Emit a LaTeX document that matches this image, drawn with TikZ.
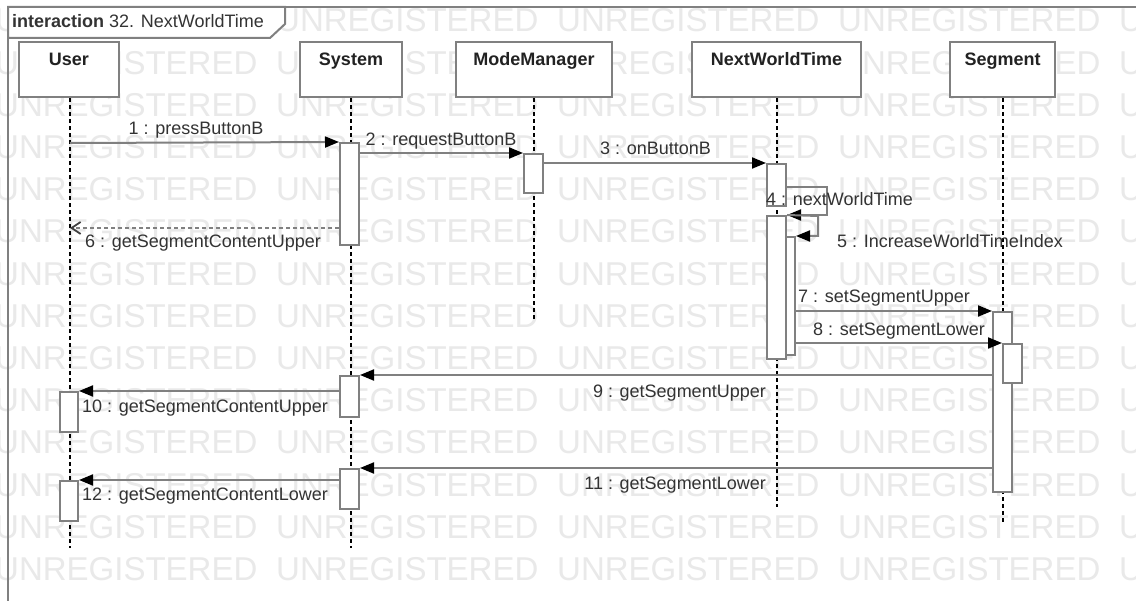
\documentclass[tikz,border=0pt]{standalone}
\usepackage{fontspec}
\setmainfont{Liberation Sans}
\usetikzlibrary{arrows.meta}
\definecolor{ln}{HTML}{808080}
\definecolor{wm}{HTML}{E9E9E9}
\definecolor{tx}{HTML}{333333}
\definecolor{hd}{HTML}{222222}
\begin{document}
\begin{tikzpicture}[x=1pt,y=-1pt,
  lbl/.style={font=\fontsize{18}{20}\selectfont, text=tx, inner sep=0pt},
  nm/.style={font=\fontsize{18}{20}\selectfont\bfseries, text=hd, inner sep=0pt, anchor=base},
  head/.style={draw=ln, line width=2.2pt, fill=white, minimum height=55pt, inner sep=0pt, anchor=north},
  act/.style={draw=ln, line width=2pt, fill=white, inner sep=0pt},
  life/.style={black, line width=1.2pt, dash pattern=on 4pt off 3pt},
  msg/.style={ln, line width=2pt, -{Triangle[length=14pt,width=11pt,color=black,fill=black]}},
  ret/.style={ln, line width=1.8pt, dash pattern=on 4pt off 3pt, -{Straight Barb[length=9pt,width=12pt,color=black!75]}},
  wmk/.style={font=\fontsize{33}{33}\selectfont, text=wm, inner sep=0pt, anchor=base west}
]
\useasboundingbox (0,0) rectangle (1136,601);
\fill[white] (0,0) rectangle (1136,601);

% watermark
\foreach \r in {0,...,13}{
  \foreach \c in {0,...,4}{
    \node[wmk] (w\r-\c) at ({-5+281*\c},{32+42.2*\r}) {UNREGISTERED};
  }
}

% frame
\draw[ln, line width=2.5pt] (8,601) -- (8,7) -- (1136,7);
\draw[ln, line width=2pt, fill=white] (8,7) -- (285,7) -- (285,24) -- (270,38) -- (8,38) -- cycle;
\node[lbl, anchor=base west] (title) at (12,28) {\textbf{interaction} 32. NextWorldTime};

% lifeline heads
\node[head, minimum width=100pt] (user) at (69,41) {};
\node[head, minimum width=102pt] (sys) at (351,41) {};
\node[head, minimum width=156pt] (mm) at (534,41) {};
\node[head, minimum width=169pt] (nwt) at (776.5,41) {};
\node[head, minimum width=105pt] (seg) at (1002.5,41) {};
\node[nm] (userT) at (69,66) {User};
\node[nm] (sysT) at (351,66) {System};
\node[nm] (mmT) at (534,66) {ModeManager};
\node[nm] (nwtT) at (776.5,66) {NextWorldTime};
\node[nm] (segT) at (1002.5,66) {Segment};

% lifeline ends
\coordinate (userE) at (70,548);
\coordinate (sysE) at (351,548);
\coordinate (mmE) at (534,322);
\coordinate (nwtE) at (777,507);
\coordinate (segE) at (1003,523);
\draw[life] (user.south -| userE) -- (userE);
\draw[life] (sys.south -| sysE) -- (sysE);
\draw[life] (mm.south -| mmE) -- (mmE);
\draw[life] (nwt.south -| nwtE) -- (nwtE);
\draw[life] (seg.south -| segE) -- (segE);

% activations
\node[act, minimum width=19pt, minimum height=102pt] (sA) at (349.5,194) {};
\node[act, minimum width=19pt, minimum height=39pt] (mA) at (533.5,173.5) {};
\node[act, minimum width=19pt, minimum height=42pt] (nA) at (776.5,185) {};
\node[act, minimum width=19pt, minimum height=143pt] (nB) at (776.5,287.5) {};
\node[act, minimum width=9pt, minimum height=118pt] (nC) at (790.5,296) {};
\node[act, minimum width=19pt, minimum height=180pt] (sD) at (1002.5,402) {};
\node[act, minimum width=19pt, minimum height=39pt] (sE) at (1012.5,363.5) {};
\node[act, minimum width=19pt, minimum height=41pt] (sB) at (349.5,396.5) {};
\node[act, minimum width=18pt, minimum height=40pt] (uA) at (69,412) {};
\node[act, minimum width=19pt, minimum height=40pt] (sC) at (349.5,489) {};
\node[act, minimum width=18pt, minimum height=40pt] (uB) at (69,501) {};

% messages
\coordinate (u1) at (70,143);
\draw[msg] (u1) -- (sA.north west);
\draw[msg] (sA.east |- mA.north) -- (mA.north west);
\draw[msg] (mA.east |- nA.north) -- (nA.north west);
\coordinate (l4) at (827,187);
\draw[msg] (nA.east |- l4) -- (l4) -- (l4 |- nB.north) -- (nB.north east);
\coordinate (l5) at (818,216);
\draw[msg] (nB.north east) -- (l5) -- (l5 |- nC.north east) -- (nC.north east);
\coordinate (u6) at (70,228);
\draw[ret] (sA.west |- u6) -- (u6);
\draw[msg] (nC.east |- sD.north) -- (sD.north west);
\draw[msg] (nC.east |- sE.north) -- (sE.north west);
\draw[msg] (sD.west |- sB.north) -- (sB.north east);
\draw[msg] (sB.west |- uA.north) -- (uA.north east);
\draw[msg] (sD.west |- sC.north) -- (sC.north east);
\draw[msg] (sC.west |- uB.north) -- (uB.north east);

% labels
\node[lbl, anchor=base] (t1) at (196,135) {1 : pressButtonB};
\node[lbl, anchor=base] (t2) at (441,146) {2 : requestButtonB};
\node[lbl, anchor=base west] (t3) at (600,155) {3 : onButtonB};
\node[lbl, anchor=base west] (t4) at (766,206) {4 : nextWorldTime};
\node[lbl, anchor=base west] (t5) at (837,248) {5 : IncreaseWorldTimeIndex};
\node[lbl, anchor=base west] (t6) at (85,248) {6 : getSegmentContentUpper};
\node[lbl, anchor=base west] (t7) at (798,303) {7 : setSegmentUpper};
\node[lbl, anchor=base west] (t8) at (813,336) {8 : setSegmentLower};
\node[lbl, anchor=base east] (t9) at (766,398) {9 : getSegmentUpper};
\node[lbl, anchor=base west] (t10) at (82,413) {10 : getSegmentContentUpper};
\node[lbl, anchor=base east] (t11) at (766,490) {11 : getSegmentLower};
\node[lbl, anchor=base west] (t12) at (82,501) {12 : getSegmentContentLower};
\end{tikzpicture}
\end{document}
